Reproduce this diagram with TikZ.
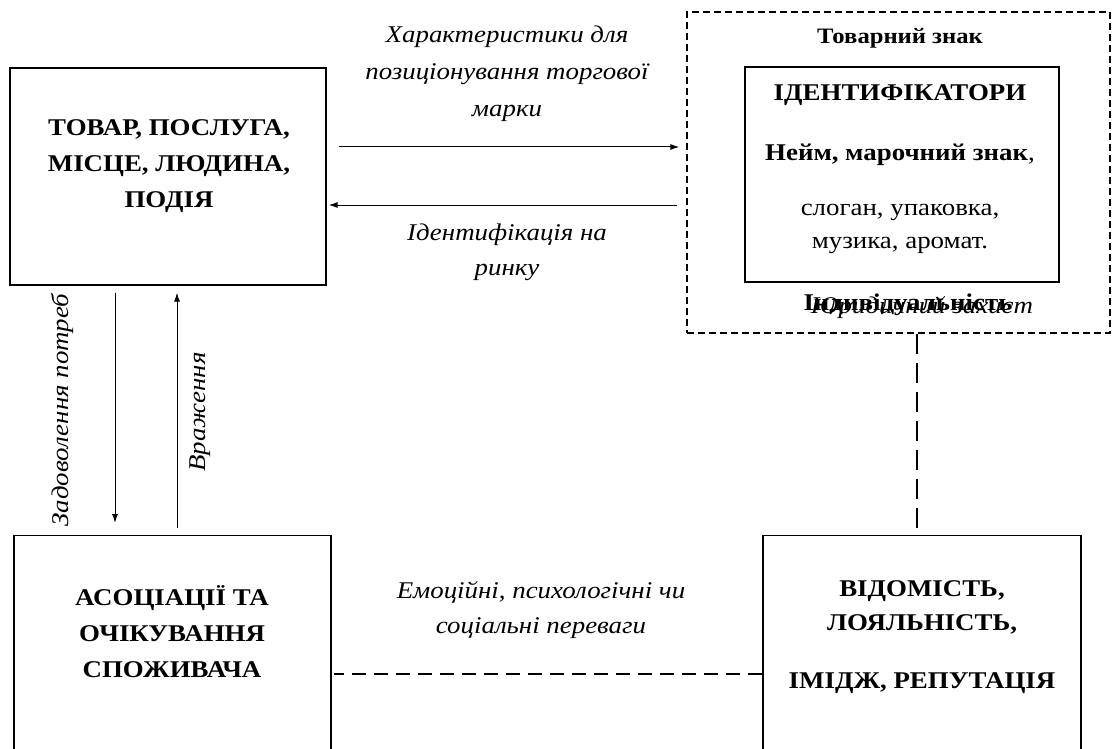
\documentclass[tikz,border=0pt]{standalone}
\usepackage{fontspec}
\setmainfont{Liberation Serif}[FakeStretch=1.12]
\usetikzlibrary{arrows.meta}

\tikzset{
	box/.style={draw,line width=1.3pt,inner sep=0pt},
	capsbold/.style={font=\bfseries\fontsize{24}{36}\selectfont,align=center},
	remark/.style={font=\itshape\fontsize{24}{36}\selectfont,align=center},
	longdash/.style={line width=2pt,dash pattern=on 14pt off 8pt}
}

\begin{document}
\begin{tikzpicture}[x=1pt,y=-1pt,>={Latex[length=9pt,width=6pt]}]
	\useasboundingbox (0,0) rectangle (1114,749);
	%
	\node[box,minimum width=316,minimum height=217] (tovar) at (168,176.5) {};
	\node[capsbold] (tovartext) at (169,166) {ТОВАР, ПОСЛУГА,\\МІСЦЕ, ЛЮДИНА,\\ПОДІЯ};
	%
	\node[box,line width=1.3pt,dash pattern=on 7pt off 4pt,minimum width=423,minimum height=321] (znak) at (898.5,172.5) {};
	\node[font=\bfseries\fontsize{22}{26}\selectfont] (znaktitle) at (900,38) {Товарний знак};
	\node[box,minimum width=314,minimum height=215] (ident) at (902,174.5) {};
	\node[align=center,font=\fontsize{24}{33}\selectfont] (identtext) at (900,169) {\textbf{ІДЕНТИФІКАТОРИ}\\[27pt]\textbf{Нейм, марочний знак},\\[22pt]слоган, упаковка,\\музика, аромат.};
	\node[font=\bfseries\fontsize{24}{28}\selectfont] (indiv) at (908,305) {Індивідуальність};
	\node[font=\itshape\fontsize{24}{28}\selectfont] (zakhyst) at (922,308) {Юридичний захист};
	%
	\node[box,minimum width=317,minimum height=230,anchor=north] (asoc) at (172.5,535) {};
	\node[capsbold] (asoctext) at (172,632) {АСОЦІАЦІЇ ТА\\ОЧІКУВАННЯ\\СПОЖИВАЧА};
	\node[box,minimum width=318,minimum height=230,anchor=north] (vidom) at (922,535) {};
	\node[capsbold,font=\bfseries\fontsize{24}{34}\selectfont] (vidomtext) at (922,637) {ВІДОМІСТЬ,\\ЛОЯЛЬНІСТЬ,\\[24pt]ІМІДЖ, РЕПУТАЦІЯ};
	%
	\node[remark,font=\itshape\fontsize{24}{37}\selectfont] (poz) at (507,74) {Характеристики для\\позиціонування торгової\\марки};
	\node[remark,font=\itshape\fontsize{24}{35}\selectfont] (identrynok) at (507,252) {Ідентифікація на\\ринку};
	\node[remark,font=\itshape\fontsize{24}{35}\selectfont] (emoc) at (541,610) {Емоційні, психологічні чи\\соціальні переваги};
	\node[remark,rotate=90] (potreb) at (62,410) {Задоволення потреб};
	\node[remark,rotate=90] (vrazh) at (200,412) {Враження};
	%
	\draw[->,line width=1pt,shorten <=12pt,shorten >=7pt] ([yshift=29.5pt]tovar.east) -- ([yshift=29.5pt]tovar.east -| znak.west);
	\draw[<-,line width=1pt,shorten <=2pt,shorten >=9pt] ([yshift=-28.5pt]tovar.east) -- ([yshift=-28.5pt]tovar.east -| znak.west);
	\draw[->,line width=1pt,shorten <=7pt,shorten >=12pt] ([xshift=-53pt]tovar.south) -- ([xshift=-53pt]tovar.south |- asoc.north);
	\draw[<-,line width=1pt,shorten <=7pt,shorten >=7pt] ([xshift=9pt]tovar.south) -- ([xshift=9pt]tovar.south |- asoc.north);
	%
	\draw[longdash,dash pattern=on 20pt off 9pt] ([xshift=-5pt]znak.south -| vidom.north) -- ([xshift=-5pt]vidom.north);
	\draw[longdash] ([yshift=-23pt]vidom.west) -- ([yshift=-23pt,xshift=2pt]vidom.west -| asoc.east);
\end{tikzpicture}
\end{document}
